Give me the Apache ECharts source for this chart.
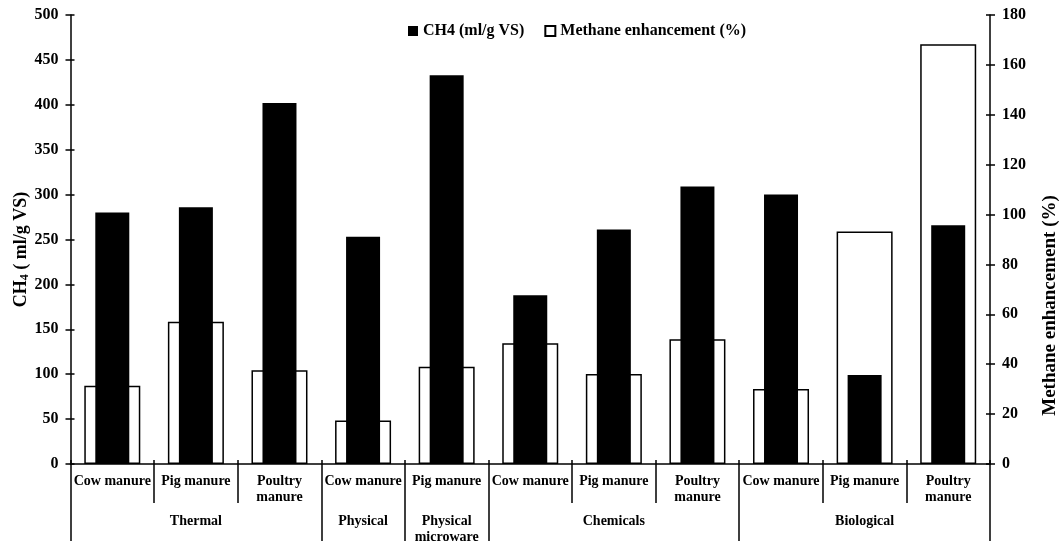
<!DOCTYPE html>
<html>
<head>
<meta charset="utf-8">
<script src="https://cdn.jsdelivr.net/npm/echarts@6/dist/echarts.min.js"></script>
<style>
html,body{margin:0;padding:0;background:#fff;}
#chart{width:1060px;height:541px;}
</style>
</head>
<body>
<div id="chart"></div>
<script>
const categories = ['Cow manure','Pig manure','Poultry\nmanure','Cow manure','Pig manure','Cow manure','Pig manure','Poultry\nmanure','Cow manure','Pig manure','Poultry\nmanure'];
const groupLabels = ['', 'Thermal', '', 'Physical', 'Physical\nmicroware', '', 'Chemicals', '', '', 'Biological', ''];
const groupStarts = [0, 3, 4, 5, 8];
const ch4Values = [280, 286, 402, 253, 433, 188, 261, 309, 300, 99, 266];
const enhancementValues = [31.4, 57, 37.6, 17.4, 39.0, 48.4, 36.1, 50.0, 30.1, 93.2, 168.3];
const leftAxis = {min: 0, max: 500, interval: 50};
const rightAxis = {min: 0, max: 180, interval: 20};
const seriesNames = ['CH4 (ml/g VS)', 'Methane enhancement (%)'];

const FONT = 'Liberation Serif';
const lineBlack = {color: '#000', width: 1.5};
const chart = echarts.init(document.getElementById('chart'), null, {renderer: 'canvas'});

function yAxisBase(cfg, pos) {
  return {
    type: 'value', position: pos, min: cfg.min, max: cfg.max, interval: cfg.interval,
    axisLine: {show: true, lineStyle: lineBlack},
    axisTick: {show: true, inside: false, length: 5, lineStyle: lineBlack},
    splitLine: {show: false},
    axisLabel: {color: '#000', fontFamily: FONT, fontWeight: 'bold', fontSize: 16, margin: 12}
  };
}

const yLeft = yAxisBase(leftAxis, 'left');
yLeft.name = 'CH{s|4} ( ml/g VS)';
yLeft.nameLocation = 'middle';
yLeft.nameGap = 40;
yLeft.nameMoveOverlap = false;
yLeft.nameTextStyle = {color: '#000', fontFamily: FONT, fontWeight: 'bold', fontSize: 18, padding: [0, 20, 0, 0],
  rich: {s: {fontFamily: FONT, fontWeight: 'bold', fontSize: 12, color: '#000', verticalAlign: 'bottom', lineHeight: 18}}};

const yRight = yAxisBase(rightAxis, 'right');
yRight.name = seriesNames[1];
yRight.nameLocation = 'middle';
yRight.nameGap = 51;
yRight.nameTextStyle = {color: '#000', fontFamily: FONT, fontWeight: 'bold', fontSize: 19, padding: [0, 132, 0, 0]};

const yLeftInner = {type: 'value', position: 'left', min: leftAxis.min, max: leftAxis.max, interval: leftAxis.interval,
  axisLine: {show: false}, axisTick: {show: true, inside: true, length: 4, lineStyle: lineBlack},
  axisLabel: {show: false}, splitLine: {show: false}};
const yRightInner = {type: 'value', position: 'right', min: rightAxis.min, max: rightAxis.max, interval: rightAxis.interval,
  axisLine: {show: false}, axisTick: {show: true, inside: true, length: 4, lineStyle: lineBlack},
  axisLabel: {show: false}, splitLine: {show: false}};

const option = {
  animation: false,
  backgroundColor: '#fff',
  grid: {left: 70.5, right: 70, top: 15, bottom: 77, containLabel: false, outerBoundsMode: 'none'},
  legend: {
    data: seriesNames, left: 403, top: 18, itemWidth: 10, itemHeight: 10, itemGap: 20, icon: 'rect',
    textStyle: {color: '#000', fontFamily: FONT, fontWeight: 'bold', fontSize: 16}
  },
  xAxis: [
    {
      type: 'category', position: 'bottom', data: categories,
      axisLine: {show: true, lineStyle: lineBlack},
      axisTick: {show: true, interval: 0, length: 39, lineStyle: lineBlack},
      axisLabel: {interval: 0, margin: 9, color: '#000', fontFamily: FONT, fontWeight: 'bold', fontSize: 14, lineHeight: 16}
    },
    {type: 'category', position: 'bottom', data: categories, show: false},
    {
      type: 'category', position: 'bottom', data: groupLabels,
      axisLine: {show: false},
      axisTick: {show: true, interval: function (i) { return groupStarts.indexOf(i) >= 0; }, length: 80, lineStyle: lineBlack},
      axisLabel: {interval: 0, margin: 49, color: '#000', fontFamily: FONT, fontWeight: 'bold', fontSize: 14, lineHeight: 16}
    },
    {
      type: 'category', position: 'bottom', data: categories,
      axisLine: {show: false},
      axisTick: {show: true, inside: true, interval: 0, length: 4, lineStyle: lineBlack},
      axisLabel: {show: false}
    }
  ],
  yAxis: [yLeft, yRight, yLeftInner, yRightInner],
  series: [
    {
      name: seriesNames[0], type: 'bar', xAxisIndex: 0, yAxisIndex: 0, data: ch4Values,
      barWidth: 34, z: 3, itemStyle: {color: '#000'}
    },
    {
      name: seriesNames[1], type: 'bar', xAxisIndex: 1, yAxisIndex: 1, data: enhancementValues,
      barWidth: 56, z: 2, itemStyle: {color: '#fff', borderColor: '#000', borderWidth: 1.5}
    }
  ]
};
chart.setOption(option);
</script>
</body>
</html>
